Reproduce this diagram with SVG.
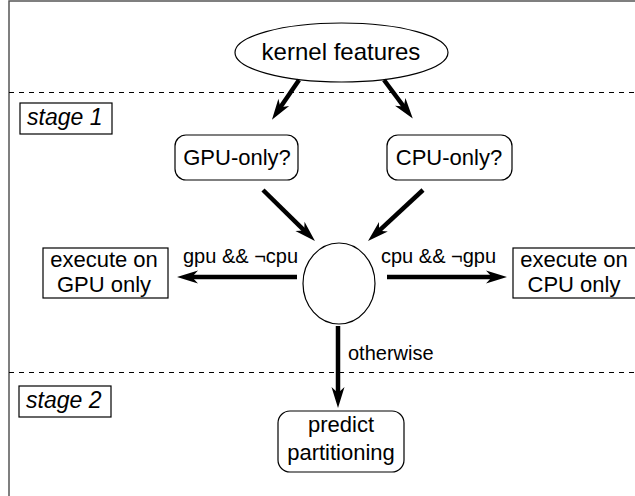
<svg xmlns="http://www.w3.org/2000/svg" width="635" height="496" viewBox="0 0 635 496">
<style>
text{font-family:"Liberation Sans",Arial,sans-serif;fill:#000}
.n{fill:#fff;stroke:#000;stroke-width:1.2}
.t{font-size:22px;text-anchor:middle}
.lbl{font-size:20px}
.st{font-size:23px;font-style:italic}
.c{stroke:#000;stroke-width:4.5;fill:none;marker-end:url(#ah)}
.d{stroke:#000;stroke-width:1;stroke-dasharray:5 5;fill:none}
</style>
<defs>
<marker id="ah" markerUnits="userSpaceOnUse" markerWidth="26" markerHeight="20" viewBox="-24 -10 26 20" refX="-12" refY="0" orient="auto">
<path d="M0,0 L-21,-6.5 L-15,0 L-21,6.5 Z" fill="#000"/>
</marker>
</defs>
<rect x="9" y="1" width="640" height="510" fill="#fff" stroke="#555" stroke-width="1.5"/>
<line class="d" x1="9" y1="92.5" x2="635" y2="92.5"/>
<line class="d" x1="9" y1="372.5" x2="635" y2="372.5"/>
<g id="stage1"><rect class="n" x="20" y="103" width="92" height="31"/><text class="st" x="27" y="125">stage 1</text></g>
<g id="stage2"><rect class="n" x="19" y="386" width="92" height="31"/><text class="st" x="26" y="408">stage 2</text></g>
<g id="kernel"><ellipse class="n" cx="341.5" cy="52.5" rx="106.5" ry="29.5"/><text class="t" style="font-size:24px" x="341" y="60">kernel features</text></g>
<g id="gpuq"><rect class="n" x="175" y="135" width="123" height="45" rx="11"/><text class="t" x="237" y="165">GPU-only?</text></g>
<g id="cpuq"><rect class="n" x="387" y="135" width="125" height="45" rx="11"/><text class="t" x="449" y="165">CPU-only?</text></g>
<g id="join"><ellipse class="n" cx="339" cy="283.5" rx="36" ry="40.5"/></g>
<g id="gpuonly"><rect class="n" x="43" y="248" width="125" height="50"/><text class="t" x="104" y="267">execute on</text><text class="t" x="104" y="292">GPU only</text></g>
<g id="cpuonly"><rect class="n" x="513" y="248" width="130" height="50"/><text class="t" x="574" y="267">execute on</text><text class="t" x="574" y="292">CPU only</text></g>
<g id="predict"><rect class="n" x="278" y="411" width="126" height="61" rx="12"/><text class="t" x="341" y="432">predict</text><text class="t" x="341" y="460">partitioning</text></g>
<g id="connectors">
<line class="c" x1="299" y1="80" x2="278.7" y2="109.8"/>
<line class="c" x1="384" y1="80" x2="405.6" y2="109"/>
<line class="c" x1="263" y1="190" x2="306.4" y2="232.6"/>
<line class="c" x1="423" y1="190" x2="376.8" y2="232.8"/>
<line class="c" x1="297" y1="277" x2="189" y2="277"/>
<line class="c" x1="387" y1="277" x2="495" y2="277"/>
<line class="c" x1="338" y1="326" x2="338" y2="396"/>
<text class="lbl" x="183" y="263">gpu &amp;&amp; ¬cpu</text>
<text class="lbl" x="381" y="263">cpu &amp;&amp; ¬gpu</text>
<text class="lbl" x="348" y="360">otherwise</text>
</g>
</svg>
